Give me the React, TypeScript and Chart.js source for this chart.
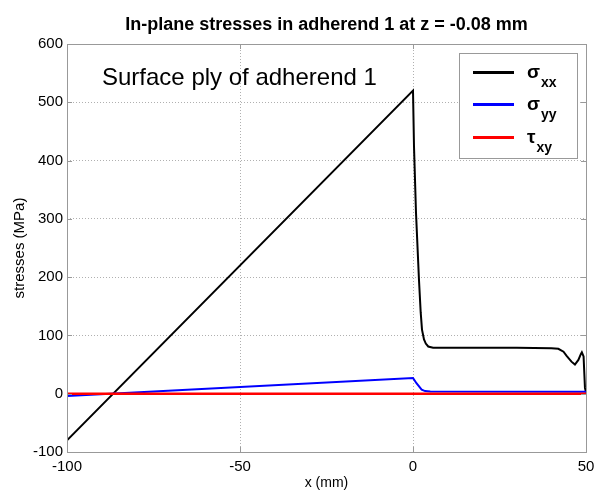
import React, { useEffect, useRef } from "react";
import { Chart, registerables } from "chart.js";

Chart.register(...registerables);

// sigma_xx
const sxxX = [-100, 0, 0.29, 0.87, 1.73, 2.23, 2.6, 3.18, 3.7, 4.4, 5.8, 10, 20, 30, 40, 42, 43.5, 44.4, 45.8, 46.8, 47.8, 48.5, 48.8, 49.3, 49.7, 50];
const sxxY = [-80, 520, 424, 310, 195, 139, 110, 93, 86, 81, 79, 79, 79, 79, 78, 77, 72, 65, 55, 50, 58, 68, 71, 64, 10, 2];
// sigma_yy
const syyX = [-100, 0, 1, 2.5, 3.5, 5, 50];
const syyY = [-4, 27, 18, 7, 4.5, 4, 3.5];
// tau_xy
const txyX = [-100, 50];
const txyY = [0, 0];

const xTicks = [-100, -50, 0, 50];
const yTicks = [-100, 0, 100, 200, 300, 400, 500, 600];

const titleText = "In-plane stresses in adherend 1 at z = -0.08 mm";
const annotationText = "Surface ply of adherend 1";
const legendItems = [
  { sym: "σ", sub: "xx", color: "#000000" },
  { sym: "σ", sub: "yy", color: "#0000ff" },
  { sym: "τ", sub: "xy", color: "#ff0000" },
];

const FONT = "Arial, 'Liberation Sans', sans-serif";

const zip = (xs: number[], ys: number[]) => xs.map((x, i) => ({ x, y: ys[i] }));

const framePlugin = {
  id: "frame",
  afterDraw(chart: any) {
    const { ctx, chartArea: a, scales } = chart;
    ctx.save();
    // box
    ctx.strokeStyle = "#999999";
    ctx.lineWidth = 1;
    ctx.setLineDash([]);
    ctx.strokeRect(a.left + 0.5, a.top + 0.5, a.right - a.left, a.bottom - a.top);
    // inner ticks
    const tl = 5;
    ctx.beginPath();
    xTicks.forEach((v) => {
      const px = Math.round(scales.x.getPixelForValue(v)) + 0.5;
      ctx.moveTo(px, a.bottom);
      ctx.lineTo(px, a.bottom - tl);
      ctx.moveTo(px, a.top);
      ctx.lineTo(px, a.top + tl);
    });
    yTicks.forEach((v) => {
      const py = Math.round(scales.y.getPixelForValue(v)) + 0.5;
      ctx.moveTo(a.left, py);
      ctx.lineTo(a.left + tl, py);
      ctx.moveTo(a.right, py);
      ctx.lineTo(a.right - tl, py);
    });
    ctx.stroke();

    // annotation
    ctx.fillStyle = "#000";
    ctx.font = `24px ${FONT}`;
    ctx.textAlign = "left";
    ctx.textBaseline = "alphabetic";
    ctx.fillText(annotationText, a.left + 35, a.top + 41);

    // legend
    const lx = 459, ly = 53, lw = 118, lh = 105;
    ctx.fillStyle = "#fff";
    ctx.fillRect(lx, ly, lw, lh);
    ctx.strokeStyle = "#999999";
    ctx.lineWidth = 1;
    ctx.strokeRect(lx + 0.5, ly + 0.5, lw, lh);
    const rows = [72.5, 104.5, 137.5];
    legendItems.forEach((it, i) => {
      const y = rows[i];
      ctx.strokeStyle = it.color;
      ctx.lineWidth = 3;
      ctx.beginPath();
      ctx.moveTo(473, y);
      ctx.lineTo(514, y);
      ctx.stroke();
      ctx.fillStyle = "#000";
      ctx.font = `bold 19px ${FONT}`;
      ctx.fillText(it.sym, 527, y + 5);
      const w = ctx.measureText(it.sym).width;
      ctx.font = `bold 14px ${FONT}`;
      ctx.fillText(it.sub, 527 + w + 1, y + 14);
    });
    ctx.restore();
  },
};

export default function App() {
  const ref = useRef<HTMLCanvasElement>(null);
  useEffect(() => {
    const canvas = ref.current!;
    const chart = new Chart(canvas, {
      type: "line",
      data: {
        datasets: [
          { label: "σxx", data: zip(sxxX, sxxY), borderColor: "#000000", borderWidth: 2, order: 2 },
          { label: "σyy", data: zip(syyX, syyY), borderColor: "#0000ff", borderWidth: 2, order: 1 },
          { label: "τxy", data: zip(txyX, txyY), borderColor: "#ff0000", borderWidth: 2.5, order: 0 },
        ],
      },
      options: {
        animation: false,
        responsive: false,
        devicePixelRatio: 1,
        elements: { point: { radius: 0 }, line: { tension: 0 } },
        layout: { padding: { left: 0, right: 26, top: 0, bottom: 0 } },
        plugins: {
          legend: { display: false },
          tooltip: { enabled: false },
          title: {
            display: true,
            text: titleText,
            fullSize: false,
            color: "#000",
            font: { family: FONT, size: 18, weight: "bold", lineHeight: 1.2 },
            padding: { top: 14, bottom: 8.4 },
          },
        },
        scales: {
          x: {
            type: "linear",
            min: -100,
            max: 50,
            afterBuildTicks: (s: any) => { s.ticks = xTicks.map((v) => ({ value: v })); },
            afterFit: (s: any) => { s.height = 44; },
            ticks: { color: "#000", font: { family: FONT, size: 15 }, padding: 6, maxRotation: 0 },
            grid: { drawTicks: false, color: "#b0b0b0", lineWidth: 1 },
            border: { display: false, dash: [1, 2] },
            title: { display: true, text: "x (mm)", color: "#000", font: { family: FONT, size: 14 }, padding: { top: 0, bottom: 4 } },
          },
          y: {
            type: "linear",
            min: -100,
            max: 600,
            afterBuildTicks: (s: any) => { s.ticks = yTicks.map((v) => ({ value: v })); },
            afterFit: (s: any) => { s.width = 67; },
            ticks: { color: "#000", font: { family: FONT, size: 15 }, padding: 4 },
            grid: { drawTicks: false, color: "#b0b0b0", lineWidth: 1 },
            border: { display: false, dash: [1, 2] },
            title: { display: true, text: "stresses (MPa)", color: "#000", font: { family: FONT, size: 15 }, padding: { top: 11, bottom: 0 } },
          },
        },
      },
      plugins: [framePlugin],
    } as any);
    return () => chart.destroy();
  }, []);
  return (
    <div style={{ position: "absolute", left: 0, top: 0, width: 612, height: 496, background: "#fff" }}>
      <canvas ref={ref} width={612} height={496} />
    </div>
  );
}
